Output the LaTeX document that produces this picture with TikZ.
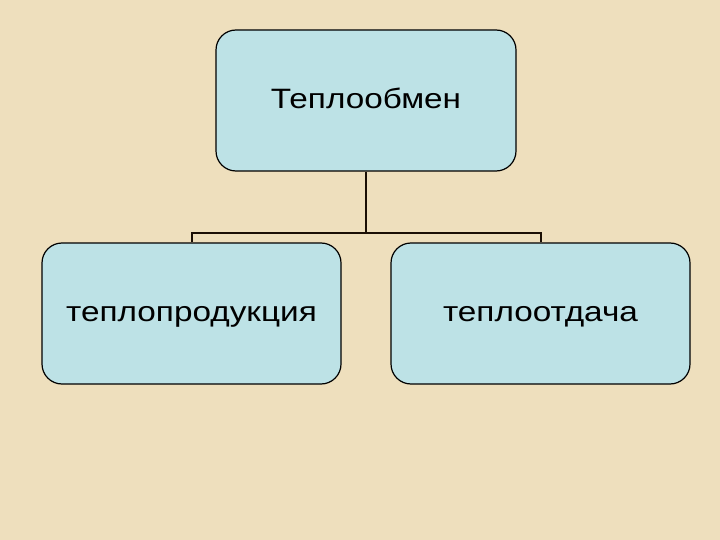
\documentclass[tikz,border=0pt]{standalone}
\usepackage{fontspec}
\setmainfont{Liberation Sans}
\definecolor{parch}{HTML}{EEDFBD}
\definecolor{boxfill}{HTML}{BDE2E6}
\definecolor{linec}{HTML}{1A0F05}
\newcommand{\wtxt}[2]{\raisebox{#1}[\height][\depth]{\scalebox{1.19}[1]{#2}}}
\begin{document}
\begin{tikzpicture}[x=1pt,y=-1pt,
  block/.style={draw=black, line width=1.2pt, fill=boxfill, rounded corners=20pt,
    minimum height=141pt, inner sep=0pt, font=\fontsize{28}{32}\selectfont},
  link/.style={draw=linec, line width=2pt}]
\fill[parch] (0,0) rectangle (720,540);
\useasboundingbox (0,0) rectangle (720,540);
\node[block, minimum width=300pt] (top) at (366,100.5) {\wtxt{2.5pt}{Теплообмен}};
\node[block, minimum width=299pt] (left) at (191.5,313.5) {\wtxt{-3.7pt}{теплопродукция}};
\node[block, minimum width=299pt] (right) at (540.5,313.5) {\wtxt{-3.7pt}{теплоотдача}};
\coordinate (j) at (366,233);
\draw[link] (top.south) -- (j);
\draw[link] (left.north) -- (left.north |- j) -- (right.north |- j) -- (right.north);
\end{tikzpicture}
\end{document}
